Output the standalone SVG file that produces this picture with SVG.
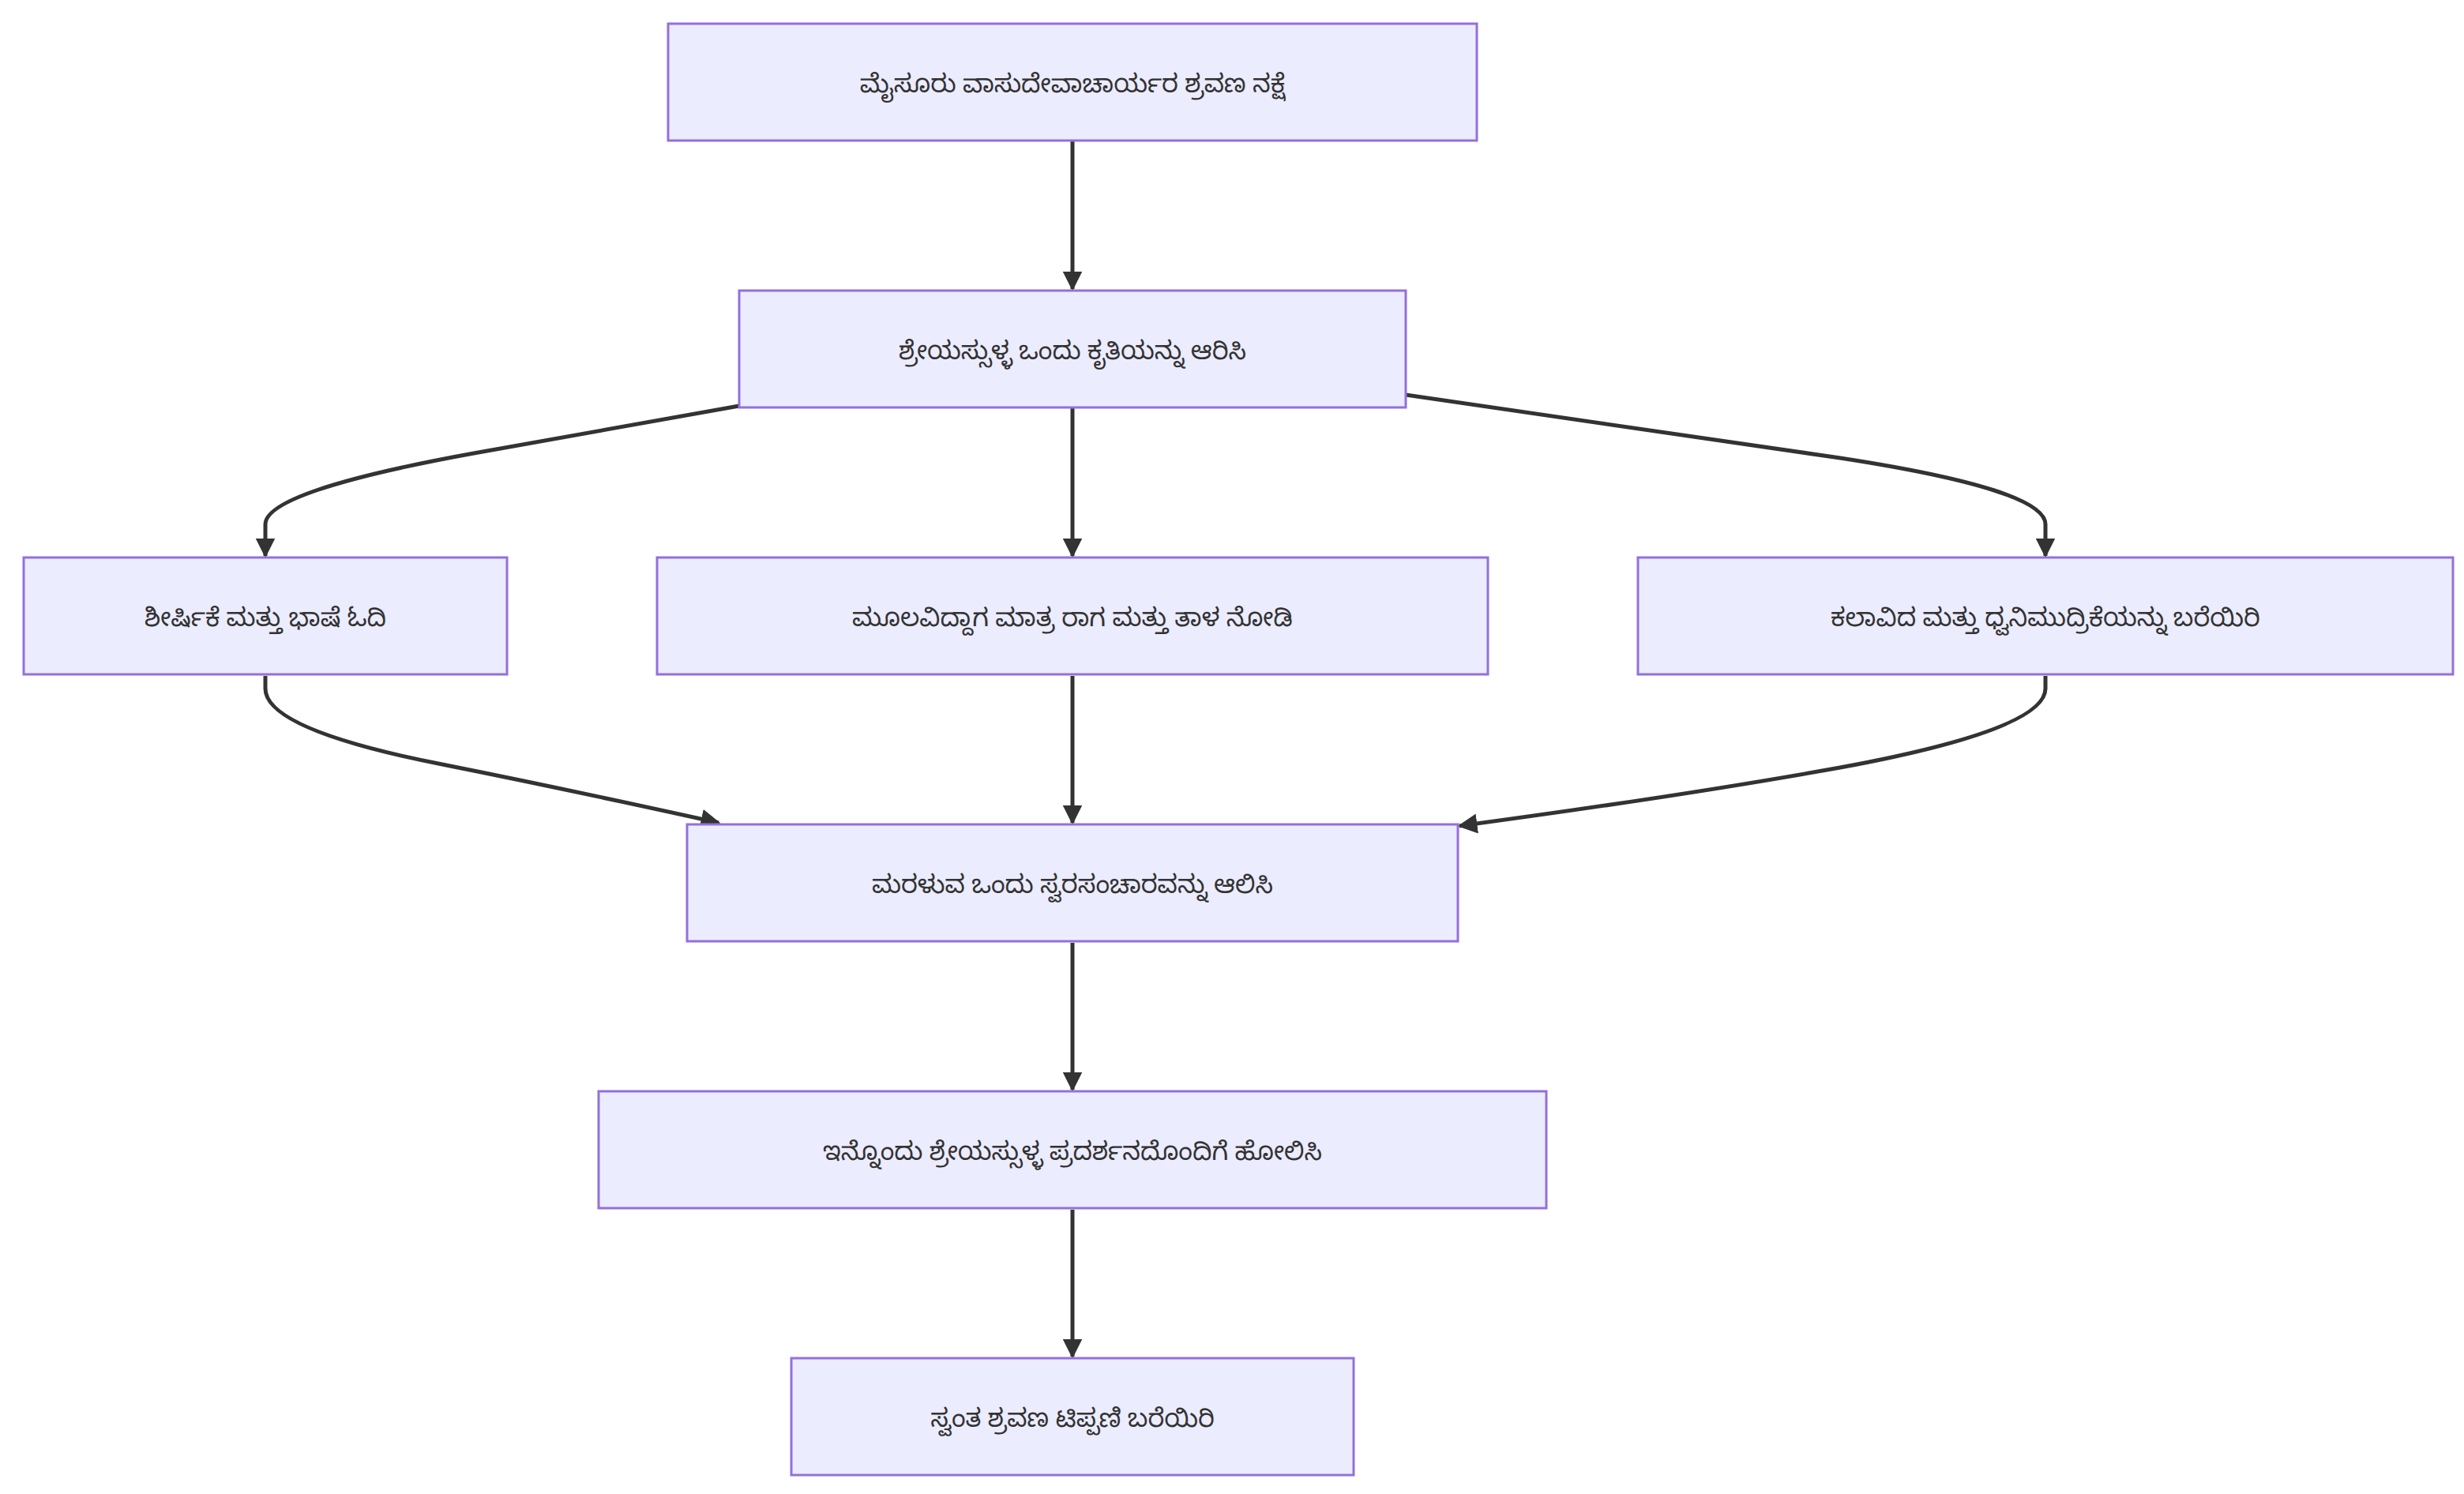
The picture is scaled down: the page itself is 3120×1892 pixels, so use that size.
<svg xmlns="http://www.w3.org/2000/svg" width="3120" height="1892" viewBox="0 0 3120 1892">
<style>
.n rect{fill:#ECECFF;stroke:#9370DB;stroke-width:3}
.n text{font-family:"Noto Sans","Noto Sans Kannada",sans-serif;font-size:32px;fill:#333;text-anchor:middle;dominant-baseline:central}
.e path{fill:none;stroke:#333;stroke-width:5}
</style>
<defs><marker id="a" viewBox="0 0 10 10" refX="9" refY="5" markerWidth="5" markerHeight="5" orient="auto"><path d="M0,0L10,5L0,10z" fill="#333"/></marker></defs>
<rect width="3120" height="1892" fill="#fff"/>
<g class="e">
<path d="M1358,178 L1358,366" marker-end="url(#a)"/>
<path d="M936,514 L600,574 Q336,622 336,664 L336,704" marker-end="url(#a)"/>
<path d="M1358,516 L1358,704" marker-end="url(#a)"/>
<path d="M1780,500 L2330,580 Q2590,620 2590,664 L2590,704" marker-end="url(#a)"/>
<path d="M336,856 L336,872 Q336,924 560,968 Q720,1000 910,1042" marker-end="url(#a)"/>
<path d="M1358,856 L1358,1042" marker-end="url(#a)"/>
<path d="M2590,856 L2590,872 Q2590,924 2330,972 Q2130,1008 1848,1046" marker-end="url(#a)"/>
<path d="M1358,1194 L1358,1380" marker-end="url(#a)"/>
<path d="M1358,1532 L1358,1718" marker-end="url(#a)"/>
</g>
<g id="n1" class="n"><rect x="846" y="30" width="1024" height="148"/><text x="1358" y="104">ಮೈಸೂರು ವಾಸುದೇವಾಚಾರ್ಯರ ಶ್ರವಣ ನಕ್ಷೆ</text></g>
<g id="n2" class="n"><rect x="936" y="368" width="844" height="148"/><text x="1358" y="442">ಶ್ರೇಯಸ್ಸುಳ್ಳ ಒಂದು ಕೃತಿಯನ್ನು ಆರಿಸಿ</text></g>
<g id="n3" class="n"><rect x="30" y="706" width="612" height="148"/><text x="336" y="780">ಶೀರ್ಷಿಕೆ ಮತ್ತು ಭಾಷೆ ಓದಿ</text></g>
<g id="n4" class="n"><rect x="832" y="706" width="1052" height="148"/><text x="1358" y="780">ಮೂಲವಿದ್ದಾಗ ಮಾತ್ರ ರಾಗ ಮತ್ತು ತಾಳ ನೋಡಿ</text></g>
<g id="n5" class="n"><rect x="2074" y="706" width="1032" height="148"/><text x="2590" y="780">ಕಲಾವಿದ ಮತ್ತು ಧ್ವನಿಮುದ್ರಿಕೆಯನ್ನು ಬರೆಯಿರಿ</text></g>
<g id="n6" class="n"><rect x="870" y="1044" width="976" height="148"/><text x="1358" y="1118">ಮರಳುವ ಒಂದು ಸ್ವರಸಂಚಾರವನ್ನು ಆಲಿಸಿ</text></g>
<g id="n7" class="n"><rect x="758" y="1382" width="1200" height="148"/><text x="1358" y="1456">ಇನ್ನೊಂದು ಶ್ರೇಯಸ್ಸುಳ್ಳ ಪ್ರದರ್ಶನದೊಂದಿಗೆ ಹೋಲಿಸಿ</text></g>
<g id="n8" class="n"><rect x="1002" y="1720" width="712" height="148"/><text x="1358" y="1794">ಸ್ವಂತ ಶ್ರವಣ ಟಿಪ್ಪಣಿ ಬರೆಯಿರಿ</text></g>
</svg>
